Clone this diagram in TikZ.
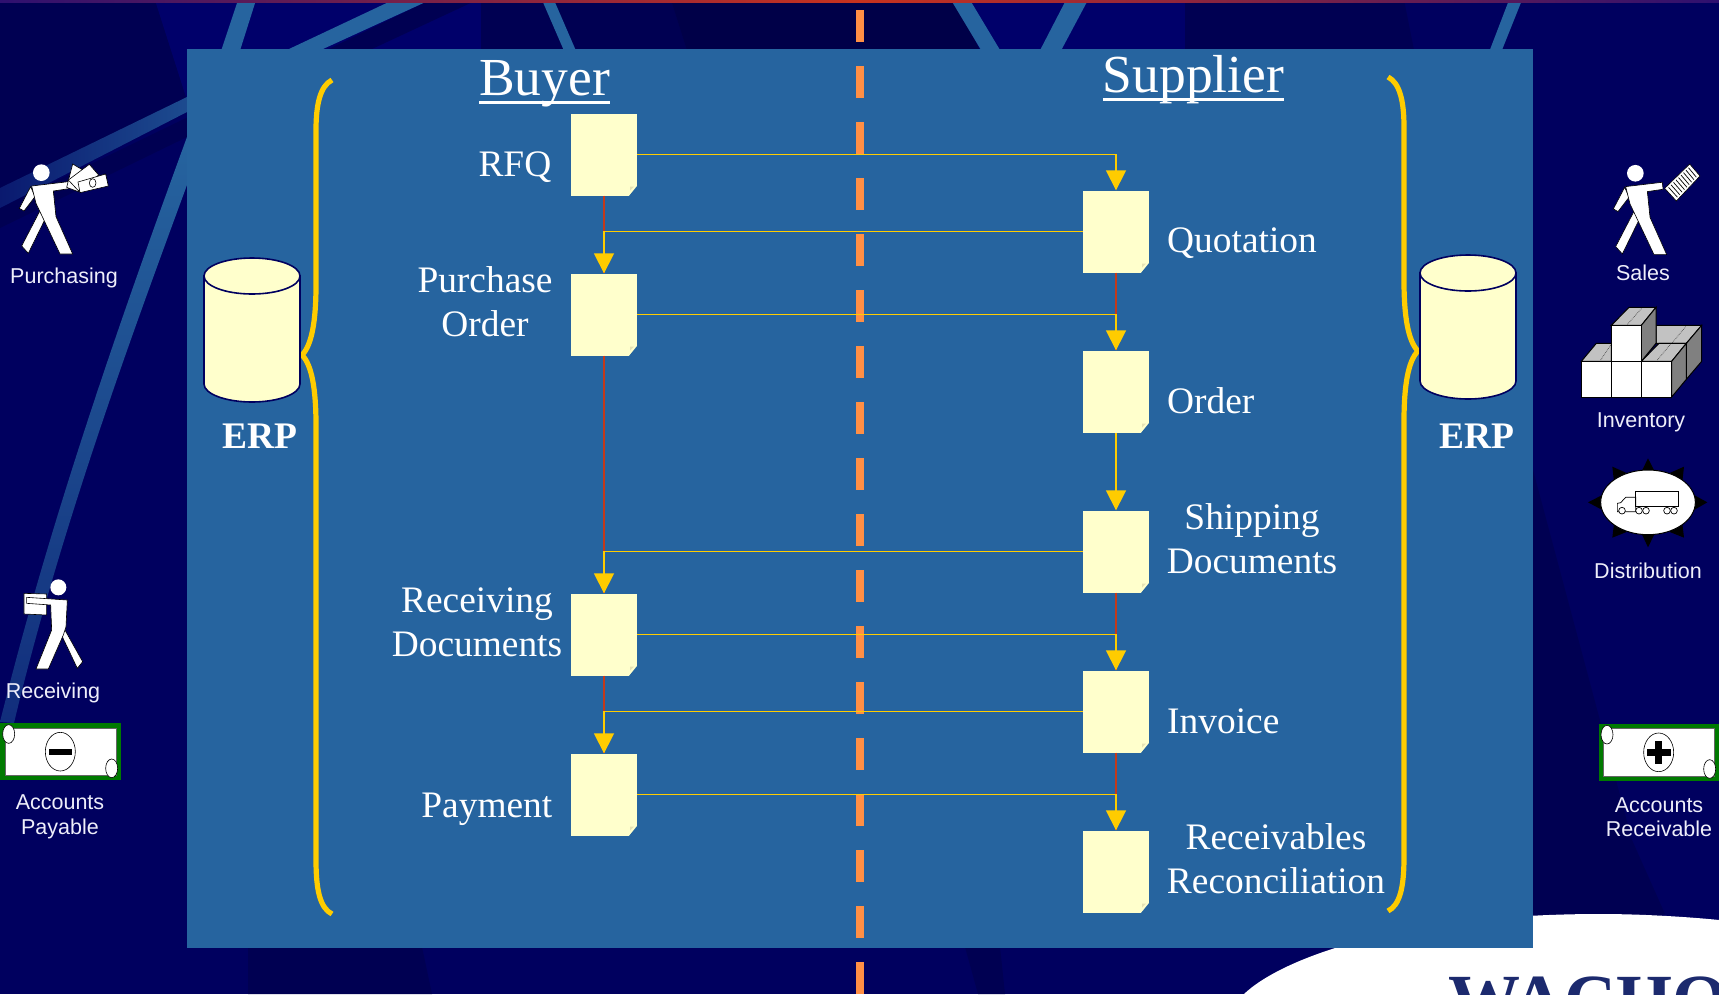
\documentclass[tikz,border=0pt]{standalone}
\usepackage{fontspec}
\setmainfont{Liberation Serif}
\setsansfont{Liberation Sans}
\usetikzlibrary{arrows.meta,calc}
\definecolor{navy}{HTML}{00005F}
\definecolor{navydark}{HTML}{000052}
\definecolor{navydeep}{HTML}{000048}
\definecolor{navylight}{HTML}{00006A}
\definecolor{panelblue}{HTML}{26649F}
\definecolor{paper}{HTML}{FFFFCC}
\definecolor{flowyellow}{HTML}{FFCC00}
\definecolor{flowred}{HTML}{C4391A}
\definecolor{dashorange}{HTML}{FF8F45}
\definecolor{foldtan}{HTML}{E6E2B4}
\definecolor{sidetext}{HTML}{EEEEFA}
\definecolor{moneygreen}{HTML}{007A00}
\definecolor{logoblue}{HTML}{1C2A6E}
\definecolor{barred}{HTML}{C8321E}
\definecolor{barpurple}{HTML}{2E1070}
\newcommand{\headrule}[1]{\setbox0=\hbox{#1}\rlap{\rule[-9pt]{\wd0}{3pt}}\box0}
\tikzset{
  notebox/.style={rectangle,fill=paper,draw=none,minimum width=66pt,minimum height=82pt,inner sep=0pt},
  streak/.style={fill=panelblue},
  flow/.style={draw=flowyellow,line width=1.7pt},
  flowarrow/.style={flow,-{Triangle[length=20pt,width=20pt]}},
  redline/.style={draw=flowred,line width=1.7pt},
  serifbig/.style={text=white,font=\fontsize{53.5}{58}\selectfont,inner sep=0pt,anchor=base},
  seriflabel/.style={text=white,font=\fontsize{37.4}{44}\selectfont,inner sep=0pt,align=center},
  erplabel/.style={text=white,font=\fontsize{37.5}{44}\selectfont\bfseries,inner sep=0pt},
  sidelabel/.style={text=sidetext,font=\sffamily\fontsize{21.5}{24.6}\selectfont,inner sep=0pt,align=center},
  brace/.style={draw=flowyellow,line width=5.2pt,line cap=butt,line join=miter},
  drum/.style={fill=paper,draw=navy,line width=1.6pt},
  icon/.style={fill=white,draw=black,line width=0.6pt},
  boxface/.style={fill=white,draw=black,line width=1pt},
  boxtop/.style={fill=black!24,draw=black,line width=1pt},
  boxside/.style={fill=black!50,draw=black,line width=1pt},
  zoomed/.style={x=0.33333pt,y=-0.33333pt},
  walker/.pic={
    \draw[icon] (92,560) -- (58,625) -- (72,633) -- (105,590) -- cycle;
    \draw[icon] (120,632) -- (65,738) -- (85,760) -- (134,660) -- cycle;
    \draw[icon] (95,558) -- (205,545) -- (207,566) -- (160,573) -- (168,650) -- (218,762) -- (180,762) -- (108,610) -- cycle;
    \fill[white] (124,518) circle [radius=25];
  }
}
\begin{document}
\begin{tikzpicture}[x=1pt,y=-1pt]
\useasboundingbox (0,0) rectangle (1719,994);
\clip (0,0) rectangle (1719,994);
% background
\fill[navy] (0,0) rectangle (1719,994);
\fill[navydark] (0,0) -- (155,0) -- (187,100) -- (0,190) -- cycle;
\fill[navylight] (155,0) -- (481,0) -- (481,60) -- (187,100) -- cycle;
\fill[navydark] (481,0) -- (671,0) -- (690,60) -- (481,60) -- cycle;
\fill[navydeep] (671,0) -- (955,0) -- (985,60) -- (690,60) -- cycle;
\fill[navylight] (955,0) -- (1185,0) -- (1185,60) -- (985,60) -- cycle;
\fill[navydark] (1185,0) -- (1404,0) -- (1416,60) -- (1185,60) -- cycle;
\fill[navydark] (248,947) -- (422,947) -- (432,994) -- (248,994) -- cycle;
\fill[navydark] (965,947) -- (1000,947) -- (1005,994) -- (978,994) -- cycle;
\fill[navydark] (1533,470) -- (1632,840) -- (1665,914) -- (1533,947) -- cycle;
% streaks
\fill[navydark] (430,0) -- (477,0) -- (372,49) -- (187,137) -- (0,228) -- (0,208) -- cycle;
\fill[streak] (393,0) -- (430,0) -- (323,49) -- (187,112) -- (187,97) -- (289,49) -- cycle;
\shade[left color=panelblue!25!navy,right color=panelblue!75!navy] (187,112) -- (0,208) -- (0,188) -- (187,97) -- cycle;
\fill[streak] (238,0) -- (256,0) -- (237,60) -- (218,60) -- cycle;
\shade[top color=panelblue,bottom color=panelblue!45!navy] (187,137) .. controls (120,320) and (50,520) .. (0,722) -- (14,723) .. controls (60,530) and (130,340) .. (187,185) -- cycle;
\fill[streak] (542,0) -- (554,0) -- (580,60) -- (568,60) -- cycle;
\fill[streak] (951,0) -- (970,0) -- (1006,60) -- (987,60) -- cycle;
\fill[streak] (1066,0) -- (1088,0) -- (1056,60) -- (1035,60) -- cycle;
\fill[streak] (1509,0) -- (1522,0) -- (1498,60) -- (1486,60) -- cycle;
% top bar
\shade[left color=barpurple,right color=barpurple,middle color=barred] (0,0) rectangle (1719,2);
% white logo field
\fill[white] (1244,994) .. controls (1282,958) and (1400,914) .. (1600,914) .. controls (1650,914) and (1700,918) .. (1719,920) -- (1719,994) -- cycle;
\node[text=logoblue,anchor=base west,inner sep=0pt,font=\fontsize{72}{72}\selectfont\bfseries] (logo) at (1448,1024) {WACHOVIA};
% panel
\fill[panelblue] (187,49) rectangle (1533,948);
% centre dashes
\coordinate (dashtop) at (860,10);
\coordinate (dashend) at (860,994);
\draw[dashorange,line width=8pt,dash pattern=on 32pt off 24pt] (dashtop) -- (dashend);
% headings
\node[serifbig] (buyer) at (544.5,95) {\headrule{Buyer}};
\node[serifbig] (supplier) at (1193.5,92) {\headrule{Supplier}};
% documents
\node[notebox] (rfq) at (604,154.5) {};
\node[notebox] (po) at (604,314.5) {};
\node[notebox] (recv) at (604,634.5) {};
\node[notebox] (pay) at (604,794.5) {};
\node[notebox] (quo) at (1116,231.5) {};
\node[notebox] (ord) at (1116,391.5) {};
\node[notebox] (ship) at (1116,551.5) {};
\node[notebox] (inv) at (1116,711.5) {};
\node[notebox] (rec) at (1116,871.5) {};
\foreach \n in {rfq,po,recv,pay,quo,ord,ship,inv,rec}{
  \fill[panelblue] ([shift={(33.5,31)}]\n.center) -- ([shift={(33.5,41.5)}]\n.center) -- ([shift={(25,41.5)}]\n.center) -- cycle;
  \fill[foldtan] ([shift={(26,32)}]\n.center) -- ([shift={(30,32)}]\n.center) -- ([shift={(26,36)}]\n.center) -- cycle;
}
% labels
\node[seriflabel,anchor=east] (lrfq) at (551.5,167) {RFQ};
\node[seriflabel] (lpo) at (485,302) {Purchase\\Order};
\node[seriflabel] (lrecv) at (477,622.5) {Receiving\\Documents};
\node[seriflabel,anchor=east] (lpay) at (552.5,809) {Payment};
\node[seriflabel,anchor=west] (lquo) at (1167,243) {Quotation};
\node[seriflabel,anchor=west] (lord) at (1167,401) {Order};
\node[seriflabel] (lship) at (1252,539) {Shipping\\Documents};
\node[seriflabel,anchor=west] (linv) at (1167,721) {Invoice};
\node[seriflabel] (lrec) at (1276,859) {Receivables\\Reconciliation};
% vertical red connectors
\draw[redline] (rfq.south) -- (po.north);
\draw[redline] (po.south) -- (recv.north);
\draw[redline] (recv.south) -- (pay.north);
\draw[redline] (quo.south) -- (ord.north);
\draw[redline] (ship.south) -- (inv.north);
\draw[redline] (inv.south) -- (rec.north);
% yellow connectors
\draw[flowarrow] (rfq.east) -| (quo.north);
\draw[flowarrow] (quo.west) -| (po.north);
\draw[flowarrow] (po.east) -| (ord.north);
\draw[flowarrow] (ord.south) -- (ship.north);
\draw[flowarrow] (ship.west) -| (recv.north);
\draw[flowarrow] (recv.east) -| (inv.north);
\draw[flowarrow] (inv.west) -| (pay.north);
\draw[flowarrow] (pay.east) -| (rec.north);
% braces
\draw[brace] (332,80) .. controls (320,86) and (316,105) .. (316,130) -- (316,285) .. controls (316,320) and (312,345) .. (302,355) .. controls (312,365) and (316,390) .. (316,425) -- (316,860) .. controls (316,890) and (320,908) .. (332,914);
\draw[brace] (1388,77) .. controls (1400,83) and (1404,102) .. (1404,127) -- (1404,281) .. controls (1404,316) and (1408,341) .. (1418,351) .. controls (1408,361) and (1404,386) .. (1404,421) -- (1404,857) .. controls (1404,887) and (1400,905) .. (1388,911);
% ERP drums
\draw[drum] (204,276) -- (204,384) .. controls (204,394) and (226,402) .. (252,402) .. controls (278,402) and (300,394) .. (300,384) -- (300,276) -- cycle;
\draw[drum] (252,276) ellipse [x radius=48,y radius=18];
\draw[drum] (1420,273) -- (1420,381) .. controls (1420,391) and (1442,399) .. (1468,399) .. controls (1494,399) and (1516,391) .. (1516,381) -- (1516,273) -- cycle;
\draw[drum] (1468,273) ellipse [x radius=48,y radius=18];
\node[erplabel] (erpl) at (260,436) {ERP};
\node[erplabel] (erpr) at (1477,436) {ERP};
% purchasing
\begin{scope}[zoomed]
  \pic {walker};
  \draw[icon] (218,492) -- (262,518) -- (235,575) -- (200,562) -- cycle;
  \draw[icon] (205,540) -- (268,493) -- (296,525) -- (235,572) -- cycle;
  \draw[icon] (234,546) -- (317,522) -- (325,558) -- (240,578) -- cycle;
  \draw[line width=0.6pt] (278,549) ellipse [x radius=10,y radius=13];
\end{scope}
\node[sidelabel] (lpurch) at (64,278) {Purchasing};
% receiving
\begin{scope}[shift={(0,550)},zoomed]
  \draw[icon] (72,130) -- (140,132) -- (140,195) -- (72,192) -- cycle;
  \draw[icon] (192,235) -- (248,335) -- (232,355) -- (186,258) -- cycle;
  \draw[icon] (80,142) -- (80,160) -- (152,165) -- (155,240) -- (108,357) -- (145,357) -- (190,255) -- (198,230) -- (202,150) -- cycle;
  \fill[white] (175,112) circle [radius=24];
\end{scope}
\node[sidelabel] (lrecvd) at (53,693) {Receiving};
% accounts payable
\begin{scope}[shift={(0,550)},zoomed]
  \fill[moneygreen] (0,520) rectangle (363,690);
  \draw[black!60,fill=white,line width=0.8pt] (17,535) rectangle (348,677);
  \draw[icon] (26,552) ellipse [x radius=18,y radius=28];
  \draw[icon] (335,655) ellipse [x radius=18,y radius=28];
  \draw[icon] (181,605) ellipse [x radius=45,y radius=58];
  \fill[black] (146,598) rectangle (217,615);
\end{scope}
\node[sidelabel] (lap) at (60,817) {Accounts\\Payable};
% sales
\begin{scope}[shift={(1594,0.6)},zoomed]
  \pic {walker};
\end{scope}
\begin{scope}[shift={(1519,140)},zoomed]
  \draw[icon] (512,72) -- (543,108) -- (472,183) -- (437,145) -- cycle;
  \foreach \t in {0.1,0.2,...,0.9}
    \draw[black,line width=0.7pt] ({512+(\t)*(-75)+4},{72+(\t)*73+4}) -- ({543+(\t)*(-71)-4},{108+(\t)*75-4});
\end{scope}
\node[sidelabel] (lsales) at (1643,273) {Sales};
% inventory
\begin{scope}[shift={(1519,140)},zoomed]
  \draw[boxtop] (411,556) -- (548,556) -- (502,610) -- (411,610) -- cycle;
  \draw[boxside] (502,610) -- (548,556) -- (548,664) -- (502,718) -- cycle;
  \draw[boxtop] (187,664) -- (232,610) -- (277,610) -- (277,664) -- cycle;
  \draw[boxtop] (277,556) -- (330,502) -- (411,502) -- (367,556) -- cycle;
  \draw[boxside] (367,556) -- (411,502) -- (411,610) -- (367,664) -- cycle;
  \draw[boxface] (277,556) rectangle (367,664);
  \draw[boxtop] (367,664) -- (420,610) -- (502,610) -- (458,664) -- cycle;
  \draw[boxside] (458,664) -- (502,610) -- (502,718) -- (458,771) -- cycle;
  \draw[boxface] (187,664) rectangle (277,771);
  \draw[boxface] (277,664) rectangle (367,771);
  \draw[boxface] (367,664) rectangle (458,771);
  \foreach \a/\b/\c/\d in {245/660/275/615,325/553/368/505,415/660/455/612,460/608/500/560}
    \draw[black!70,densely dotted,line width=0.7pt] (\a,\b) -- (\c,\d);
\end{scope}
\node[sidelabel] (linvt) at (1641,422) {Inventory};
% distribution
\begin{scope}[shift={(1519,440)},zoomed]
  \fill[black] (387,55) -- (410,100) -- (365,100) -- cycle;
  \fill[black] (387,322) -- (410,275) -- (365,275) -- cycle;
  \fill[black] (207,187) -- (250,165) -- (250,210) -- cycle;
  \fill[black] (565,187) -- (525,165) -- (525,210) -- cycle;
  \fill[black] (495,80) -- (490,125) -- (450,100) -- cycle;
  \fill[black] (280,80) -- (285,125) -- (325,100) -- cycle;
  \fill[black] (495,293) -- (490,250) -- (450,275) -- cycle;
  \fill[black] (280,293) -- (285,250) -- (325,275) -- cycle;
  \draw[fill=white,draw=black,line width=1pt] (387,187) ellipse [x radius=142,y radius=97];
  \draw[black,line width=0.7pt] (350,153) rectangle (478,200);
  \draw[black,line width=0.7pt] (350,172) -- (320,172) -- (305,188) -- (295,190) -- (295,215) -- (350,215) -- cycle;
  \foreach \w in {309,360,381,444,465}
    \draw[black,fill=white,line width=0.7pt] (\w,212) circle [radius=10];
\end{scope}
\node[sidelabel] (ldist) at (1648,571) {Distribution};
% accounts receivable
\begin{scope}[shift={(1519,440)},zoomed]
  \fill[moneygreen] (240,852) rectangle (600,1023);
  \draw[black!60,fill=white,line width=0.8pt] (253,865) rectangle (585,1010);
  \draw[icon] (264,884) ellipse [x radius=18,y radius=28];
  \draw[icon] (572,987) ellipse [x radius=18,y radius=28];
  \draw[icon] (419,937) ellipse [x radius=45,y radius=58];
  \fill[black] (384,926) rectangle (455,948);
  \fill[black] (408,902) rectangle (430,972);
\end{scope}
\node[sidelabel] (lar) at (1659,817) {Accounts\\Receivable};
\end{tikzpicture}
\end{document}
